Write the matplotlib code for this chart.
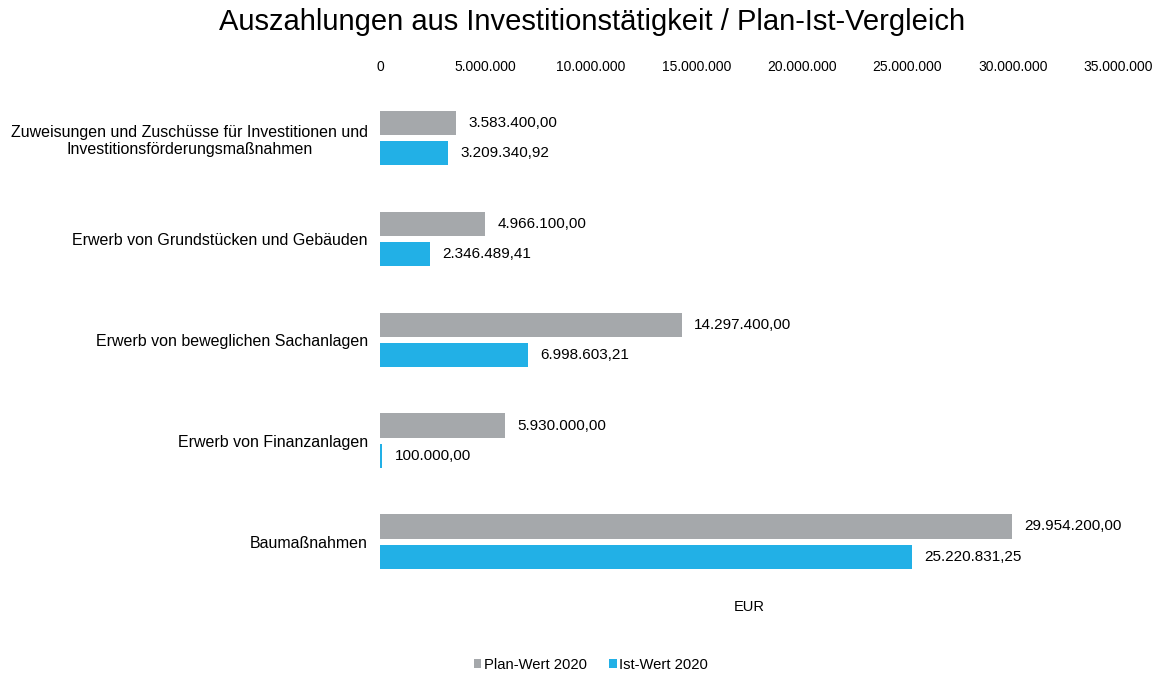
import matplotlib.pyplot as plt
import numpy as np
from matplotlib.ticker import FuncFormatter

plt.rcParams["font.family"] = ["Liberation Sans", "DejaVu Sans"]

categories = [
    "Zuweisungen und Zuschüsse für Investitionen und\nInvestitionsförderungsmaßnahmen",
    "Erwerb von Grundstücken und Gebäuden",
    "Erwerb von beweglichen Sachanlagen",
    "Erwerb von Finanzanlagen",
    "Baumaßnahmen",
]
plan_2020 = [3583400.00, 4966100.00, 14297400.00, 5930000.00, 29954200.00]
ist_2020 = [3209340.92, 2346489.41, 6998603.21, 100000.00, 25220831.25]

GRAY = "#a5a8ab"
BLUE = "#22b0e6"


def de_format(value, decimals=2):
    s = f"{value:,.{decimals}f}"
    return s.replace(",", "X").replace(".", ",").replace("X", ".")


fig = plt.figure(figsize=(11.59, 6.75), dpi=100)
ax = fig.add_axes([0.328, 0.123, 0.637, 0.747])

y = np.arange(len(categories))
h = 0.24
off = 0.15
bars_plan = ax.barh(y - off, plan_2020, height=h, color=GRAY, label="Plan-Wert 2020")
bars_ist = ax.barh(y + off, ist_2020, height=h, color=BLUE, label="Ist-Wert 2020")

# value labels right of the bars
for bars in (bars_plan, bars_ist):
    for bar in bars:
        w = bar.get_width()
        ax.annotate(
            de_format(w),
            (w, bar.get_y() + bar.get_height() / 2),
            xytext=(9, 0),
            textcoords="offset points",
            va="center",
            ha="left",
            fontsize=11,
        )

ax.set_xlim(0, 35000000)
ax.set_xticks(np.arange(0, 35000001, 5000000))
ax.xaxis.set_major_formatter(FuncFormatter(lambda v, p: de_format(v, 0)))
ax.xaxis.tick_top()
ax.set_yticks(y)
ax.set_yticklabels(categories, fontsize=11.5, multialignment="center")
ax.set_ylim(len(categories) - 0.5, -0.5)
ax.tick_params(axis="x", length=0, labelsize=10, pad=10)
ax.tick_params(axis="y", length=0, pad=9)
for s in ax.spines.values():
    s.set_visible(False)

ax.set_xlabel("EUR", fontsize=10.5, labelpad=6)

fig.suptitle(
    "Auszahlungen aus Investitionstätigkeit / Plan-Ist-Vergleich",
    fontsize=21,
    x=0.511,
    y=0.988,
)

fig.legend(
    handles=[bars_plan, bars_ist],
    labels=["Plan-Wert 2020", "Ist-Wert 2020"],
    loc="center",
    bbox_to_anchor=(0.51, 0.015),
    ncol=2,
    frameon=False,
    fontsize=10.6,
    handlelength=0.5,
    handleheight=0.5,
    handletextpad=0.2,
    columnspacing=1.5,
)

fig.savefig("out.png", dpi=100)
